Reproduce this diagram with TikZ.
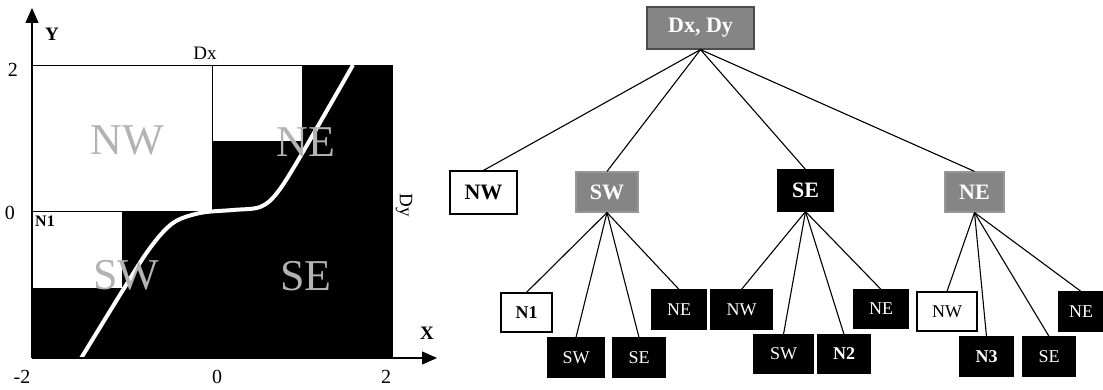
\documentclass[tikz,border=0pt]{standalone}
\usepackage{fontspec}
\setmainfont{Liberation Serif}
\usetikzlibrary{arrows.meta}
\definecolor{boxgray}{HTML}{858585}
\definecolor{labgray}{HTML}{B3B3B3}
\tikzset{
  tbox/.style={draw, line width=1.2pt, inner sep=0pt, minimum height=39pt, font=\fontsize{18}{20}\selectfont},
  wbox/.style={tbox, fill=white, draw=black, text=black},
  gbox/.style={tbox, fill=boxgray, draw=boxgray!85!white, text=white},
  kbox/.style={tbox, fill=black, draw=black, text=white},
  lvlone/.style={font=\fontsize{22}{24}\selectfont\bfseries},
  bold/.style={font=\fontsize{18}{20}\selectfont\bfseries},
  conn/.style={draw, line width=1.1pt},
  quadlab/.style={text=labgray, inner sep=0pt, font=\fontsize{44}{44}\selectfont},
  ticklab/.style={inner sep=0pt, font=\fontsize{20}{22}\selectfont},
  thinline/.style={line width=0.9pt},
}
\begin{document}
\begin{tikzpicture}[x=1pt, y=-1pt]
\useasboundingbox (0,0) rectangle (1103,390);
% ---------- left: partitioned plane ----------
\fill[black] (32,65) rectangle (393,358);
\fill[white] (32,65) rectangle (212,211);
\fill[white] (212,65) rectangle (302,141);
\fill[white] (32,211) rectangle (122,288);
\draw[thinline] (32,65) -- (393,65);
\draw[thinline] (212,65) -- (212,211) -- (32,211);
\draw[thinline] (122,211) -- (122,288) -- (32,288);
\draw[thinline] (302,65) -- (302,141);
% curve
\draw[white, line width=4pt] plot[smooth, tension=0.55] coordinates
  {(80,360) (123,290) (150,248) (173,223) (200,213) (233,210) (260,207) (277,193) (300,157) (353,65)};
% axes
\draw[line width=1.2pt, -{Triangle[width=13pt,length=15pt]}] (32,358) -- (32,8);
\draw[line width=1.2pt, -{Triangle[width=13pt,length=15pt]}] (32,358) -- (437,358);
% labels
\node[quadlab] (lnw) at (127,140) {NW};
\node[quadlab] (lne) at (306,142) {NE};
\node[quadlab] (lsw) at (126,275) {SW};
\node[quadlab] (lse) at (306,276) {SE};
\node[ticklab] (t2y) at (13,70) {2};
\node[ticklab] (t0y) at (10,213) {0};
\node[ticklab] (tm2x) at (22,377) {-2};
\node[ticklab] (t0x) at (217,377) {0};
\node[ticklab] (t2x) at (386,377) {2};
\node[ticklab, font=\fontsize{19}{21}\selectfont] (ldx) at (205,53) {Dx};
\node[ticklab, font=\fontsize{19}{21}\selectfont, rotate=-90] (ldy) at (404,205) {Dy};
\node[inner sep=0pt, font=\fontsize{16}{18}\selectfont\bfseries] (ln1) at (45,221) {N1};
\node[inner sep=0pt, font=\fontsize{19}{21}\selectfont\bfseries] (ly) at (52,34) {Y};
\node[inner sep=0pt, font=\fontsize{19}{21}\selectfont\bfseries] (lx) at (427,333) {X};
% ---------- right: quadtree ----------
\node[gbox, lvlone, draw=black!70, minimum width=107pt, minimum height=42pt] (root) at (700.5,28) {Dx, Dy};
\node[wbox, lvlone, minimum width=67pt, minimum height=43pt] (nw) at (483.5,192.5) {NW};
\node[gbox, lvlone, minimum width=62pt, minimum height=40pt] (sw) at (607,192) {SW};
\node[kbox, lvlone, minimum width=55pt, minimum height=41pt] (se) at (805.5,190.5) {SE};
\node[gbox, lvlone, minimum width=59pt, minimum height=40pt] (ne) at (974.5,192) {NE};
% children of SW
\node[wbox, bold, minimum width=51pt] (swnw) at (526.5,312.5) {N1};
\node[kbox, minimum width=56pt] (swsw) at (576,357.5) {SW};
\node[kbox, minimum width=52pt] (swse) at (639,357.5) {SE};
\node[kbox, minimum width=54pt] (swne) at (679,309.5) {NE};
% children of SE
\node[kbox, minimum width=61pt] (senw) at (741.5,309.5) {NW};
\node[kbox, minimum width=59pt, minimum height=38pt] (sesw) at (783.5,354) {SW};
\node[kbox, bold, minimum width=52pt, minimum height=38pt] (sese) at (844,354) {N2};
\node[kbox, minimum width=54pt, minimum height=38pt] (sene) at (881,309) {NE};
% children of NE
\node[wbox, minimum width=60pt] (nenw) at (947,311.5) {NW};
\node[kbox, bold, minimum width=53pt] (nesw) at (986.5,356.5) {N3};
\node[kbox, minimum width=52pt] (nese) at (1049,356.5) {SE};
\node[kbox, minimum width=44pt] (nene) at (1081,311.5) {NE};
% connectors
\foreach \c in {nw,sw,se,ne} \draw[conn] (root.south) -- (\c.north);
\foreach \c in {swnw,swsw,swse,swne} \draw[conn] (sw.south) -- (\c.north);
\foreach \c in {senw,sesw,sese,sene} \draw[conn] (se.south) -- (\c.north);
\foreach \c in {nenw,nesw,nese,nene} \draw[conn] (ne.south) -- (\c.north);
\end{tikzpicture}
\end{document}
